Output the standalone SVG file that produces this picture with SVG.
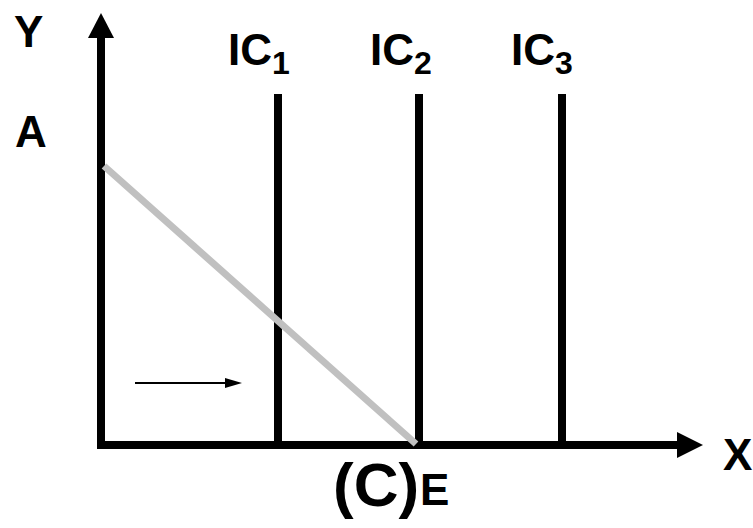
<svg xmlns="http://www.w3.org/2000/svg" width="753" height="528" viewBox="0 0 753 528">
<style>
.t{font-family:"Liberation Sans",Arial,sans-serif;font-weight:bold;fill:#000}
.ax{stroke:#000;stroke-width:8;fill:none}
.ic{stroke:#000;stroke-width:8;fill:none}
</style>
<rect width="753" height="528" fill="#fff"/>
<g id="axes">
<line class="ax" x1="101" y1="449" x2="101" y2="36"/>
<polygon points="88,38 101,13 114,38" fill="#000"/>
<line class="ax" x1="97" y1="445" x2="679" y2="445"/>
<polygon points="677,432 703,445 677,458" fill="#000"/>
</g>
<g id="ic1"><line class="ic" x1="278" y1="94" x2="278" y2="443"/></g>
<g id="ic2"><line class="ic" x1="419" y1="94" x2="419" y2="443"/></g>
<g id="ic3"><line class="ic" x1="562" y1="94" x2="562" y2="443"/></g>
<g id="budget"><line x1="104" y1="166" x2="416" y2="444" stroke="#C0C0C0" stroke-width="7"/></g>
<g id="connectors">
<line x1="135" y1="383" x2="228" y2="383" stroke="#000" stroke-width="2"/>
<polygon points="225,378 242,383 225,388" fill="#000"/>
</g>
<g id="labels">
<text class="t" x="14" y="47" font-size="44">Y</text>
<text class="t" x="15" y="147" font-size="44">A</text>
<text class="t" x="723" y="470" font-size="44">X</text>
<text class="t" x="228" y="65" font-size="44">IC<tspan font-size="32" dy="9">1</tspan></text>
<text class="t" x="370" y="65" font-size="44">IC<tspan font-size="32" dy="9">2</tspan></text>
<text class="t" x="511" y="65" font-size="44">IC<tspan font-size="32" dy="9">3</tspan></text>
<text class="t" x="333" y="506" font-size="62">(C)</text>
<text class="t" x="420" y="505" font-size="44">E</text>
</g>
</svg>
